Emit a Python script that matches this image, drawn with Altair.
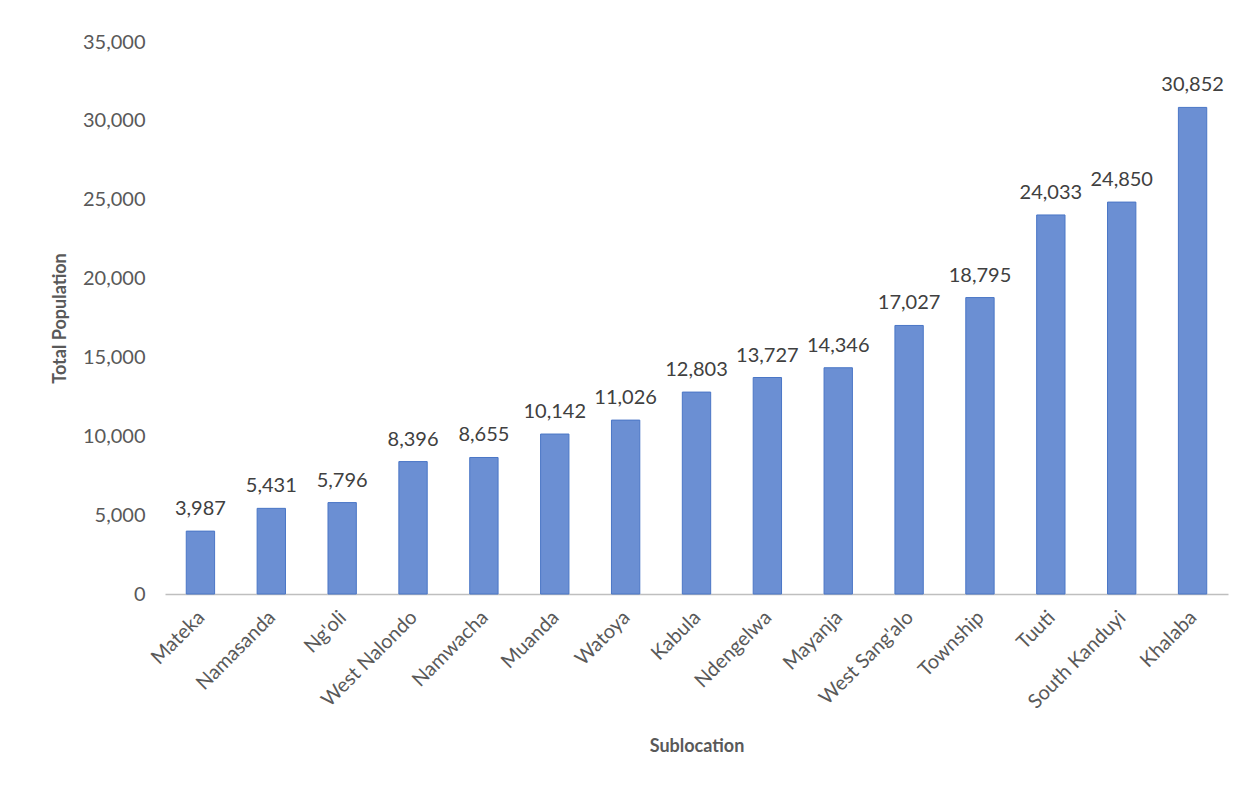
import altair as alt
import pandas as pd

sublocations = ["Mateka", "Namasanda", "Ng'oli", "West Nalondo", "Namwacha", "Muanda",
                "Watoya", "Kabula", "Ndengelwa", "Mayanja", "West Sang'alo", "Township",
                "Tuuti", "South Kanduyi", "Khalaba"]
population = [3987, 5431, 5796, 8396, 8655, 10142, 11026, 12803, 13727, 14346,
              17027, 18795, 24033, 24850, 30852]
y_ticks = [0, 5000, 10000, 15000, 20000, 25000, 30000, 35000]

df = pd.DataFrame({"Sublocation": sublocations, "Population": population})

FONT = "Lato"

base = alt.Chart(df).encode(
    x=alt.X("Sublocation:N", sort=sublocations,
            scale=alt.Scale(paddingInner=0.6, paddingOuter=0.3),
            axis=alt.Axis(title="Sublocation", labelAngle=-45, labelFontSize=20,
                          labelColor="#595959", labelFont=FONT, ticks=False,
                          labelPadding=13, labelOffset=-6,
                          domainColor="#bfbfbf", domainWidth=1.5,
                          titleFont=FONT, titleFontSize=18, titleFontWeight="bold",
                          titleColor="#595959", titleY=152, titleBaseline="middle")),
    y=alt.Y("Population:Q", scale=alt.Scale(domain=[0, 35000], nice=False),
            axis=alt.Axis(title="Total Population", values=y_ticks, format=",.0f",
                          grid=False, domain=False, ticks=False, labelPadding=20,
                          labelFontSize=20, labelColor="#595959", labelFont=FONT,
                          titleFont=FONT, titleFontSize=18, titleFontWeight="bold",
                          titleColor="#595959", titleX=-105, titleBaseline="middle")),
)

bars = base.mark_bar(color="#6b8fd3", stroke="#4a76c6", strokeWidth=1)
labels = base.mark_text(baseline="alphabetic", dy=-16, fontSize=20, color="#404040",
                        font=FONT).encode(text=alt.Text("Population:Q", format=",.0f"))

chart = (bars + labels).properties(
    width=1063, height=552,
    autosize=alt.AutoSizeParams(type="none"),
    padding={"left": 157, "top": 34, "right": 20, "bottom": 170},
).configure(background="white").configure_view(stroke=None)

chart.save("out.html", embed_options={"renderer": "svg", "actions": False})
